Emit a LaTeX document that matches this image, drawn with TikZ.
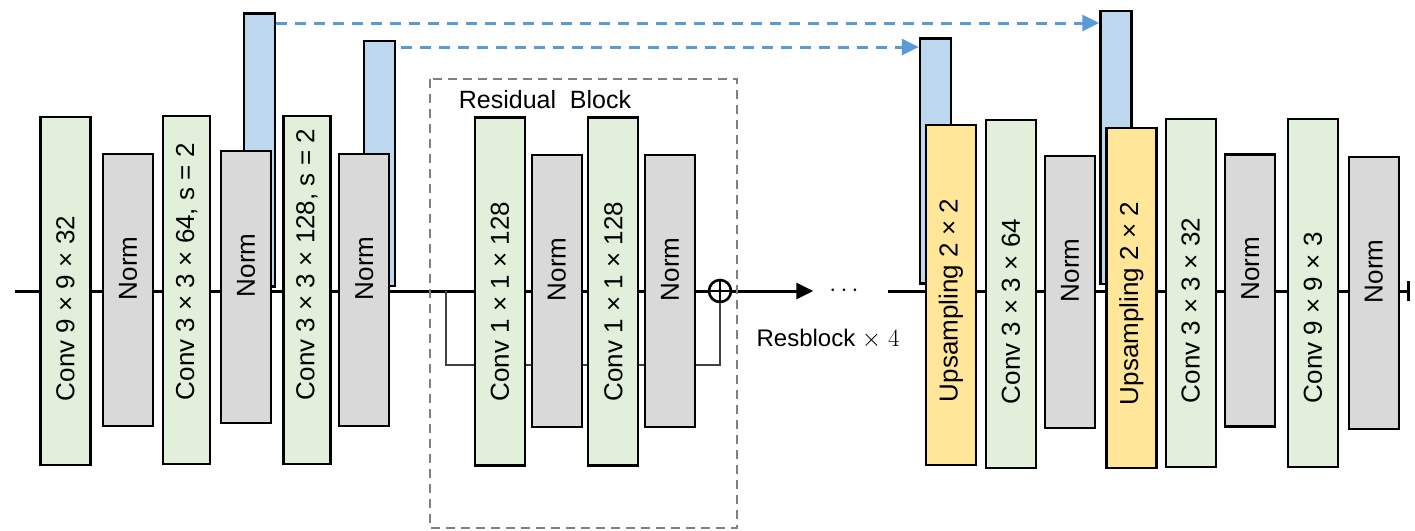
\documentclass[tikz,border=0pt]{standalone}
\usepackage{fontspec}
\setmainfont{Liberation Sans}
\usetikzlibrary{arrows.meta, positioning}
\definecolor{convgreen}{RGB}{226, 239, 218}
\definecolor{normgray}{RGB}{217, 217, 217}
\definecolor{featblue}{RGB}{189, 215, 238}
\definecolor{upyellow}{RGB}{255, 230, 153}
\definecolor{linkblue}{RGB}{91, 155, 213}
\definecolor{framegray}{RGB}{128, 128, 128}

\begin{document}
\begin{tikzpicture}[x=1pt, y=-1pt, >={Triangle[length=17pt, width=16pt]},
    layer/.style={draw=black, line width=2.3pt, inner sep=0pt, text depth=0pt,
        font=\fontsize{26}{30}\selectfont},
    conv/.style={layer, fill=convgreen, minimum width=50pt, minimum height=348pt, text height=220pt},
    norm/.style={layer, fill=normgray, minimum width=50pt, minimum height=272pt, text height=20pt},
    upsample/.style={layer, fill=upyellow, minimum width=50pt, minimum height=340pt, text height=214pt},
    feat/.style={layer, fill=featblue, minimum width=31pt},
    mainline/.style={line width=3pt},
    shortcut/.style={line width=1.5pt, black!75},
    link/.style={->, linkblue, line width=3pt, dash pattern=on 11pt off 8pt},
    adder/.style={circle, draw, line width=2.6pt, minimum size=22pt, inner sep=0pt},
    caption/.style={inner sep=0pt, font=\fontsize{25}{30}\selectfont}]
    \useasboundingbox (0,0) rectangle (1415,530);

    % data path
    \coordinate (in) at (15,291);
    \coordinate (split) at (446,291);
    \coordinate (resume) at (888,291);
    \coordinate (out) at (1410,291);
    \node[adder] (add) at (720,291) {};
    \node[inner sep=0pt, font=\fontsize{24}{28}\selectfont] (dots) at (844,291) {$\cdots$};

    \draw[mainline] (in) -- (add.west);
    \draw[mainline, ->, shorten >=16pt] (add.east) -- (dots.west);
    \draw[mainline, -{Bar[width=20pt]}] (resume) -- (out);
    \draw[shortcut] (split) -- ++(0,74) -| (add.south);
    \draw[line width=2.6pt] (add.north) -- (add.south) (add.west) -- (add.east);

    % residual block frame
    \draw[framegray, line width=2.2pt, dash pattern=on 9pt off 6pt] (430,79) rectangle (737,528);
    \node[caption] (restitle) at (545,100) {Residual~~Block};
    \node[caption, font=\fontsize{24}{28}\selectfont] (times) at (828,339) {Resblock $\times\ 4$};

    % skip features
    \node[feat, minimum height=273pt] (feat1) at (259.8,150) {};
    \node[feat, minimum height=245pt] (feat2) at (379.5,163.3) {};
    \node[feat, minimum height=245pt] (feat3) at (935.5,161) {};
    \node[feat, minimum height=273pt] (feat4) at (1116,147.5) {};

    % encoder
    \node[conv] (conv1) at (65.5,291) {\rotatebox{90}{Conv 9 × 9 × 32}};
    \node[norm] (norm1) at (128,290) {\rotatebox{90}{Norm}};
    \node[conv, minimum width=47pt] (conv2) at (186.7,290) {\rotatebox{90}{Conv 3 × 3 × 64, s = 2}};
    \node[norm] (norm2) at (246,287) {\rotatebox{90}{Norm}};
    \node[conv, minimum width=47pt] (conv3) at (307,290) {\rotatebox{90}{Conv 3 × 3 × 128, s = 2}};
    \node[norm] (norm3) at (364.3,290) {\rotatebox{90}{Norm}};

    % residual block
    \node[conv] (rconv1) at (500,291.5) {\rotatebox{90}{Conv 1 × 1 × 128}};
    \node[norm] (rnorm1) at (556.7,291) {\rotatebox{90}{Norm}};
    \node[conv] (rconv2) at (613.3,291.5) {\rotatebox{90}{Conv 1 × 1 × 128}};
    \node[norm] (rnorm2) at (670,291) {\rotatebox{90}{Norm}};

    % decoder
    \node[upsample] (up1) at (951,295) {\rotatebox{90}{Upsampling 2 × 2}};
    \node[conv] (conv4) at (1011,294) {\rotatebox{90}{Conv 3 × 3 × 64}};
    \node[norm] (norm4) at (1070,292) {\rotatebox{90}{Norm}};
    \node[upsample] (up2) at (1131.4,298) {\rotatebox{90}{Upsampling 2 × 2}};
    \node[conv] (conv5) at (1190.7,293) {\rotatebox{90}{Conv 3 × 3 × 32}};
    \node[norm] (norm5) at (1250.3,290.5) {\rotatebox{90}{Norm}};
    \node[conv] (conv6) at (1313,293) {\rotatebox{90}{Conv 9 × 9 × 3}};
    \node[norm] (norm6) at (1373.8,293) {\rotatebox{90}{Norm}};

    % long skips
    \draw[link] (feat1.east |- 0,23) -- (feat4.west |- 0,23);
    \draw[link, shorten <=5pt] (feat2.east |- 0,47) -- (feat3.west |- 0,47);
\end{tikzpicture}
\end{document}
